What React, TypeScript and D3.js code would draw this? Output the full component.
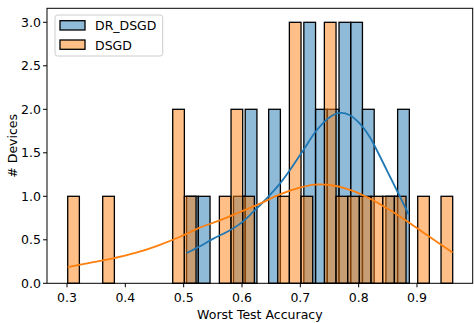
import React from "react";
import * as d3 from "d3";

const seriesNames = ["DR_DSGD", "DSGD"];
const seriesColors = ["#1f77b4", "#ff7f0e"];

const drBinStart = 0.505;
const drBinWidth = 0.0201;
const drCounts = [1, 1, 0, 0, 1, 2, 0, 2, 0, 0, 3, 2, 2, 3, 3, 2, 0, 1, 2];

const dsgdBinStart = 0.3012;
const dsgdBinWidth = 0.02;
const dsgdCounts = [1, 0, 0, 1, 0, 0, 0, 0, 0, 2, 1, 0, 0, 1, 2, 1, 0, 0, 1, 3, 1, 0, 3, 1, 1, 1, 1, 1, 1, 0, 1, 0, 1];

const drKdeX = [0.505, 0.528, 0.551, 0.574, 0.597, 0.619, 0.642, 0.665, 0.682, 0.705, 0.728, 0.751, 0.768, 0.785, 0.802, 0.819, 0.837, 0.854, 0.871, 0.886];
const drKdeY = [0.348, 0.425, 0.514, 0.59, 0.686, 0.82, 0.974, 1.146, 1.299, 1.529, 1.759, 1.912, 1.958, 1.931, 1.835, 1.682, 1.452, 1.222, 0.992, 0.79];

const dsgdKdeX = [0.3012, 0.337, 0.377, 0.417, 0.457, 0.494, 0.528, 0.562, 0.597, 0.631, 0.665, 0.699, 0.725, 0.751, 0.785, 0.819, 0.854, 0.888, 0.922, 0.961];
const dsgdKdeY = [0.187, 0.233, 0.284, 0.349, 0.437, 0.535, 0.64, 0.724, 0.82, 0.916, 1.023, 1.1, 1.135, 1.13, 1.075, 0.975, 0.839, 0.69, 0.532, 0.355];

const xTicks = [0.3, 0.4, 0.5, 0.6, 0.7, 0.8, 0.9];
const yTicks = [0, 0.5, 1, 1.5, 2, 2.5, 3];
const xLabel = "Worst Test Accuracy";
const yLabel = "# Devices";

const FONT = "'DejaVu Sans', sans-serif";

export default function App() {
  const W = 474, H = 323;
  const m = { left: 47, right: 472.7, top: 8.3, bottom: 283.3 };
  const x = d3.scaleLinear().domain([0.2657, 0.9955]).range([m.left, m.right]);
  const y = d3.scaleLinear().domain([0, 3.161]).range([m.bottom, m.top]);

  const hist = [
    { start: drBinStart, w: drBinWidth, counts: drCounts, color: seriesColors[0] },
    { start: dsgdBinStart, w: dsgdBinWidth, counts: dsgdCounts, color: seriesColors[1] },
  ];
  const kdes = [
    { xs: drKdeX, ys: drKdeY, color: seriesColors[0] },
    { xs: dsgdKdeX, ys: dsgdKdeY, color: seriesColors[1] },
  ];
  const line = d3
    .line<[number, number]>()
    .x((d) => x(d[0]))
    .y((d) => y(d[1]))
    .curve(d3.curveCatmullRom.alpha(0.5));

  return (
    <svg width={W} height={H} style={{ position: "absolute", left: 0, top: 0 }} fontFamily={FONT}>
      <rect width={W} height={H} fill="#fff" />
      {hist.map((h, si) => (
        <g key={si}>
          {h.counts.map((c, i) =>
            c > 0 ? (
              <rect
                key={i}
                x={x(h.start + i * h.w)}
                width={x(h.start + (i + 1) * h.w) - x(h.start + i * h.w)}
                y={y(c)}
                height={y(0) - y(c)}
                fill={h.color}
                fillOpacity={0.5}
                stroke="#000"
                strokeWidth={1.3}
              />
            ) : null
          )}
        </g>
      ))}
      {kdes.map((k, i) => (
        <path
          key={i}
          d={line(k.xs.map((v, j) => [v, k.ys[j]] as [number, number])) || ""}
          fill="none"
          stroke={k.color}
          strokeWidth={1.8}
        />
      ))}
      {/* frame */}
      <rect x={m.left} y={m.top} width={m.right - m.left} height={m.bottom - m.top} fill="none" stroke="#000" strokeWidth={1} />
      {/* x axis */}
      {xTicks.map((t) => (
        <g key={t}>
          <line x1={x(t)} x2={x(t)} y1={m.bottom} y2={m.bottom + 4} stroke="#000" strokeWidth={1} />
          <text x={x(t)} y={301.5} textAnchor="middle" fontSize={12.5} fill="#000">
            {t.toFixed(1)}
          </text>
        </g>
      ))}
      {yTicks.map((t) => (
        <g key={t}>
          <line x1={m.left - 4} x2={m.left} y1={y(t)} y2={y(t)} stroke="#000" strokeWidth={1} />
          <text x={m.left - 6} y={y(t)} dy="0.36em" textAnchor="end" fontSize={12.5} fill="#000">
            {t.toFixed(1)}
          </text>
        </g>
      ))}
      <text x={(m.left + m.right) / 2} y={319} textAnchor="middle" fontSize={12.5} fill="#000">
        {xLabel}
      </text>
      <text transform={`translate(17, ${(m.top + m.bottom) / 2}) rotate(-90)`} textAnchor="middle" fontSize={12.5} fill="#000">
        {yLabel}
      </text>
      {/* legend */}
      <rect x={55} y={15} width={107.7} height={41} rx={2.5} fill="#fff" fillOpacity={0.8} stroke="#ccc" strokeWidth={1} />
      {seriesNames.map((name, i) => (
        <g key={name}>
          <rect x={60} y={20.7 + i * 19.3} width={25} height={9.3} fill={seriesColors[i]} fillOpacity={0.5} stroke="#000" strokeWidth={1.3} />
          <text x={95} y={30.3 + i * 19.3} fontSize={12.5} fill="#000">
            {name}
          </text>
        </g>
      ))}
    </svg>
  );
}
